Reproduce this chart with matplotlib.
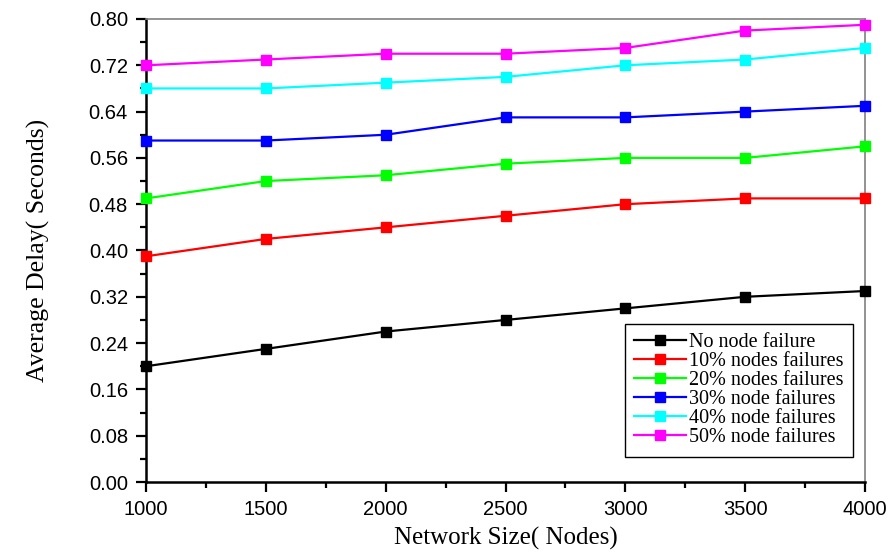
import matplotlib
matplotlib.use("Agg")
import matplotlib.pyplot as plt
from matplotlib.ticker import MultipleLocator, FormatStrFormatter

network_size = [1000, 1500, 2000, 2500, 3000, 3500, 4000]

no_failure = [0.20, 0.23, 0.26, 0.28, 0.30, 0.32, 0.33]
fail_10 = [0.39, 0.42, 0.44, 0.46, 0.48, 0.49, 0.49]
fail_20 = [0.49, 0.52, 0.53, 0.55, 0.56, 0.56, 0.58]
fail_30 = [0.59, 0.59, 0.60, 0.63, 0.63, 0.64, 0.65]
fail_40 = [0.68, 0.68, 0.69, 0.70, 0.72, 0.73, 0.75]
fail_50 = [0.72, 0.73, 0.74, 0.74, 0.75, 0.78, 0.79]

labels = ["No node failure", "10% nodes failures", "20% nodes failures",
          "30% node failures", "40% node failures", "50% node failures"]
colors = ["#000000", "#ff0000", "#00ff00", "#0000ff", "#00ffff", "#ff00ff"]

fig = plt.figure(figsize=(8.91, 5.52), dpi=100)
ax = fig.add_axes([0.1639, 0.1268, 0.8069, 0.8388])

for ys, lab, c in zip([no_failure, fail_10, fail_20, fail_30, fail_40, fail_50], labels, colors):
    ax.plot(network_size, ys, color=c, lw=1.6, marker="s", ms=6.5, label=lab, clip_on=False, zorder=3)

ax.set_xlim(1000, 4000)
ax.set_ylim(0.0, 0.80)
ax.xaxis.set_major_locator(MultipleLocator(500))
ax.xaxis.set_minor_locator(MultipleLocator(250))
ax.yaxis.set_major_locator(MultipleLocator(0.08))
ax.yaxis.set_minor_locator(MultipleLocator(0.04))
ax.yaxis.set_major_formatter(FormatStrFormatter("%.2f"))

for side in ["left", "bottom"]:
    ax.spines[side].set_linewidth(1.8)
    ax.spines[side].set_color("black")
for side in ["top", "right"]:
    ax.spines[side].set_linewidth(1.2)
    ax.spines[side].set_color("#808080")

ax.tick_params(which="major", direction="out", length=7, width=1.6, top=False, right=False, pad=6)
ax.tick_params(which="minor", direction="out", length=4, width=1.6, top=False, right=False)
for t in ax.get_xticklabels() + ax.get_yticklabels():
    t.set_fontfamily("Liberation Sans")
    t.set_fontsize(14.5)

ax.set_xlabel("Network Size( Nodes)", fontfamily="Liberation Serif", fontsize=18, labelpad=6)
ax.set_ylabel("Average Delay( Seconds)", fontfamily="Liberation Serif", fontsize=18.5, labelpad=28)

leg = ax.legend(loc="lower right", bbox_to_anchor=(0.983, 0.055), prop={"family": "Liberation Serif", "size": 14.5},
                fancybox=False, framealpha=1, edgecolor="black", handlelength=2.6,
                labelspacing=0.0, borderpad=0.45, handletextpad=0.15, borderaxespad=0)
leg.get_frame().set_linewidth(1.0)

fig.savefig("out.png", dpi=100)
